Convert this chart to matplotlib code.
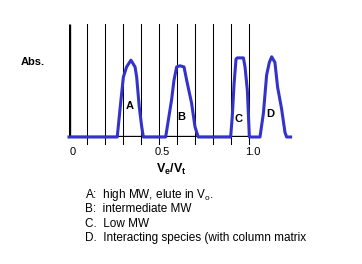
import matplotlib.pyplot as plt

plt.rcParams['font.family'] = ['Liberation Sans', 'DejaVu Sans']

# elution profile (Ve/Vt, relative absorbance)
trace_x = [0.0, 0.268, 0.283, 0.302, 0.32, 0.344, 0.367, 0.376, 0.39, 0.404, 0.413,
           0.537, 0.570, 0.583, 0.598, 0.617, 0.639, 0.654, 0.681, 0.70, 0.718,
           0.898, 0.907, 0.917, 0.928, 0.935, 0.969, 0.978, 0.991, 1.002,
           1.061, 1.080, 1.098, 1.113, 1.126, 1.144, 1.159, 1.181, 1.20, 1.209, 1.231]
trace_y = [0.0, 0.0, 0.24, 0.53, 0.62, 0.68, 0.62, 0.53, 0.27, 0.09, 0.0,
           0.0, 0.33, 0.50, 0.62, 0.63, 0.62, 0.50, 0.30, 0.09, 0.0,
           0.0, 0.18, 0.47, 0.69, 0.70, 0.70, 0.62, 0.41, 0.0,
           0.0, 0.21, 0.55, 0.66, 0.71, 0.66, 0.44, 0.25, 0.04, 0.0, 0.0]

peak_labels = ['A', 'B', 'C', 'D']
peak_label_x = [0.339, 0.622, 0.94, 1.117]
peak_label_y = [0.27, 0.18, 0.16, 0.2]

grid_x = [0.1, 0.2, 0.3, 0.4, 0.5, 0.6, 0.7, 0.8, 0.9, 1.0]
tick_vals = [0, 0.5, 1.0]
tick_text = ['0', '0.5', '1.0']

legend_lines = ['A:  high MW, elute in V$_\\mathregular{o}$.',
                'B:  intermediate MW',
                'C.  Low MW',
                'D.  Interacting species (with column matrix']

fig = plt.figure(figsize=(3.62, 2.64), dpi=100)
ax = fig.add_axes([69 / 362, 127 / 264, 225 / 362, 113 / 264])
ax.set_xlim(0, 1.25)
ax.set_ylim(0, 1)
ax.axis('off')

# thin vertical lines, reaching a little below the baseline as ticks
for gx in grid_x:
    ax.plot([gx, gx], [-0.06, 1], color='black', lw=0.75, clip_on=False)

# thick y axis and baseline
ax.plot([0, 0], [0, 1], color='black', lw=2.4, solid_capstyle='butt')
ax.plot([0, 1.0], [0, 0], color='black', lw=2.4, solid_capstyle='butt')

ax.plot(trace_x, trace_y, color='#3333cc', lw=2.2, clip_on=False)

for lab, lx, ly in zip(peak_labels, peak_label_x, peak_label_y):
    ax.text(lx, ly, lab, fontsize=8, fontweight='bold', ha='center', va='center')

for tv, tt in zip(tick_vals, tick_text):
    ax.text(tv + 0.02, -0.13, tt, fontsize=8, ha='center', va='center')

fig.text(21 / 362, 1 - 62 / 264, 'Abs.', fontsize=8, fontweight='bold', va='center')
fig.text(171 / 362, 1 - 169 / 264, 'V$_\\mathregular{e}$/V$_\\mathregular{t}$',
         fontsize=9, fontweight='bold', ha='center', va='center')

for i, line in enumerate(legend_lines):
    fig.text(85 / 362, 1 - (195 + 14.3 * i) / 264, line, fontsize=8.5, va='center')

fig.savefig('out.png', dpi=100)
